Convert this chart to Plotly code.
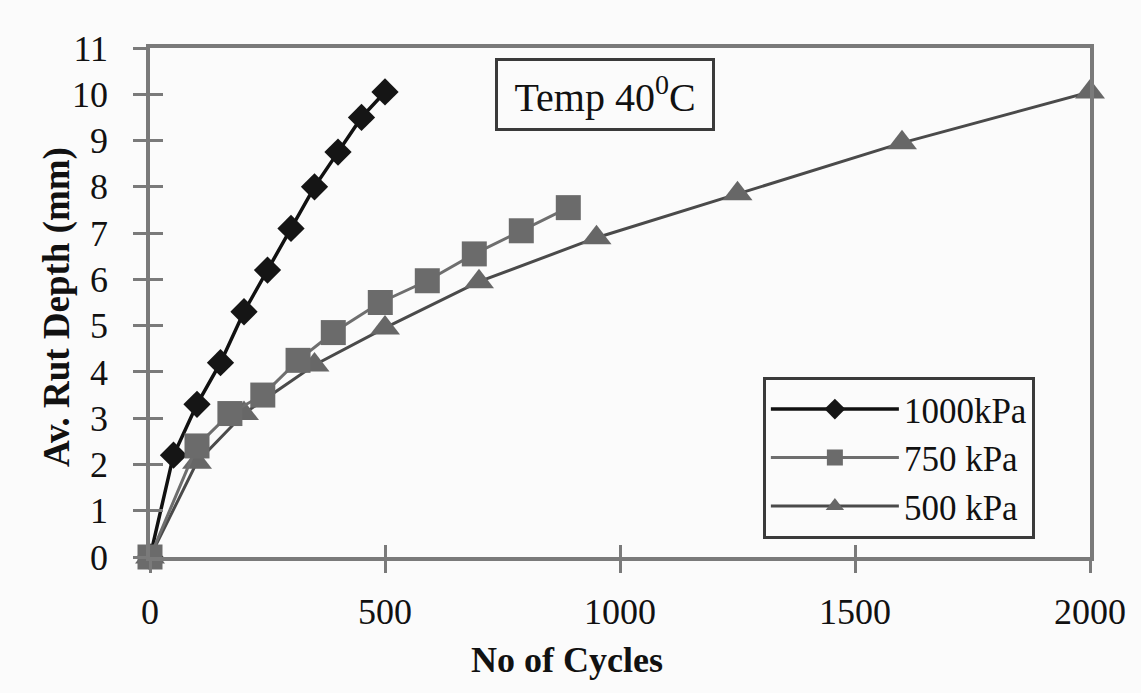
import plotly.graph_objects as go

# Data
cycles_1000 = [0, 50, 100, 150, 200, 250, 300, 350, 400, 450, 500]
rut_1000 = [0, 2.2, 3.3, 4.2, 5.3, 6.2, 7.1, 8.0, 8.75, 9.5, 10.05]

cycles_750 = [0, 100, 170, 240, 315, 390, 490, 590, 690, 790, 890]
rut_750 = [0, 2.4, 3.1, 3.5, 4.25, 4.85, 5.5, 5.97, 6.55, 7.05, 7.55]

cycles_500 = [0, 100, 200, 350, 500, 700, 950, 1250, 1600, 2000]
rut_500 = [0, 2.05, 3.1, 4.15, 4.95, 5.95, 6.9, 7.85, 8.95, 10.05]

x_ticks = [0, 500, 1000, 1500, 2000]
y_ticks = list(range(0, 12))

FONT = "Liberation Serif"
AXIS_COLOR = "#7a7a7a"
BG = "#fbfbfb"

fig = go.Figure()

fig.add_trace(go.Scatter(
    x=cycles_1000, y=rut_1000, name="1000kPa", mode="lines+markers",
    line=dict(color="#111111", width=3.5),
    marker=dict(symbol="diamond", size=21, color="#151515"),
    cliponaxis=False, legendrank=1,
))
fig.add_trace(go.Scatter(
    x=cycles_500, y=rut_500, name="500 kPa", mode="lines+markers",
    line=dict(color="#4a4a4a", width=3),
    marker=dict(symbol="triangle-up", size=26, color="#676767"),
    cliponaxis=False, legendrank=3,
))
fig.add_trace(go.Scatter(
    x=cycles_750, y=rut_750, name="750 kPa", mode="lines+markers",
    line=dict(color="#6e6e6e", width=3),
    marker=dict(symbol="square", size=25, color="#6b6b6b"),
    cliponaxis=False, legendrank=2,
))

# invisible trace to anchor the overlay axes used for crossing tick marks
fig.add_trace(go.Scatter(x=[None], y=[None], xaxis="x2", yaxis="y2",
                         showlegend=False, hoverinfo="skip"))

fig.update_layout(
    width=1141, height=693,
    paper_bgcolor=BG, plot_bgcolor=BG,
    margin=dict(l=150, r=51, t=48, b=136),
    font=dict(family=FONT, color="#111111", size=36),
    xaxis=dict(
        range=[0, 2000], tickvals=x_ticks, ticks="outside", ticklen=12,
        tickwidth=2.5, tickcolor=AXIS_COLOR, showgrid=False, zeroline=False,
        showline=True, linecolor=AXIS_COLOR, linewidth=3.5, mirror=True,
        tickfont=dict(family=FONT, size=36, color="#111111"),
        ticklabelstandoff=8,
    ),
    yaxis=dict(
        range=[0, 11], tickvals=y_ticks, ticks="outside", ticklen=13,
        tickwidth=2.5, tickcolor=AXIS_COLOR, showgrid=False, zeroline=False,
        showline=True, linecolor=AXIS_COLOR, linewidth=3.5, mirror=True,
        tickfont=dict(family=FONT, size=36, color="#111111"),
        ticklabelstandoff=18,
    ),
    xaxis2=dict(
        overlaying="x", anchor="y2", side="bottom", range=[0, 2000],
        tickvals=x_ticks, ticks="inside", ticklen=12, tickwidth=2.5,
        tickcolor=AXIS_COLOR, showticklabels=False, showgrid=False,
        zeroline=False, showline=False,
    ),
    yaxis2=dict(
        overlaying="y", anchor="x2", side="left", range=[0, 11],
        tickvals=y_ticks, ticks="inside", ticklen=13, tickwidth=2.5,
        tickcolor=AXIS_COLOR, showticklabels=False, showgrid=False,
        zeroline=False, showline=False,
    ),
    legend=dict(
        x=0.652, y=0.354, xanchor="left", yanchor="top",
        bgcolor=BG, bordercolor="#3a3a3a", borderwidth=3,
        font=dict(family=FONT, size=35, color="#111111"),
        itemwidth=128, tracegroupgap=0,
    ),
    annotations=[
        dict(text="Temp 40<sup>0</sup>C", xref="paper", yref="paper",
             x=0.484, y=0.908, xanchor="center", yanchor="middle",
             showarrow=False, width=214, height=67, borderwidth=3,
             bordercolor="#3a3a3a", bgcolor=BG, borderpad=0,
             font=dict(family=FONT, size=40, color="#111111")),
        dict(text="<b>No of Cycles</b>", xref="paper", yref="paper",
             x=0.4436, y=-0.202, xanchor="center", yanchor="middle",
             showarrow=False, font=dict(family=FONT, size=36, color="#111111")),
        dict(text="<b>Av. Rut Depth (mm)</b>", xref="paper", yref="paper",
             x=-0.099, y=0.491, xanchor="center", yanchor="middle",
             textangle=-90, showarrow=False,
             font=dict(family=FONT, size=37, color="#111111")),
    ],
)

fig.write_html("out.html")
